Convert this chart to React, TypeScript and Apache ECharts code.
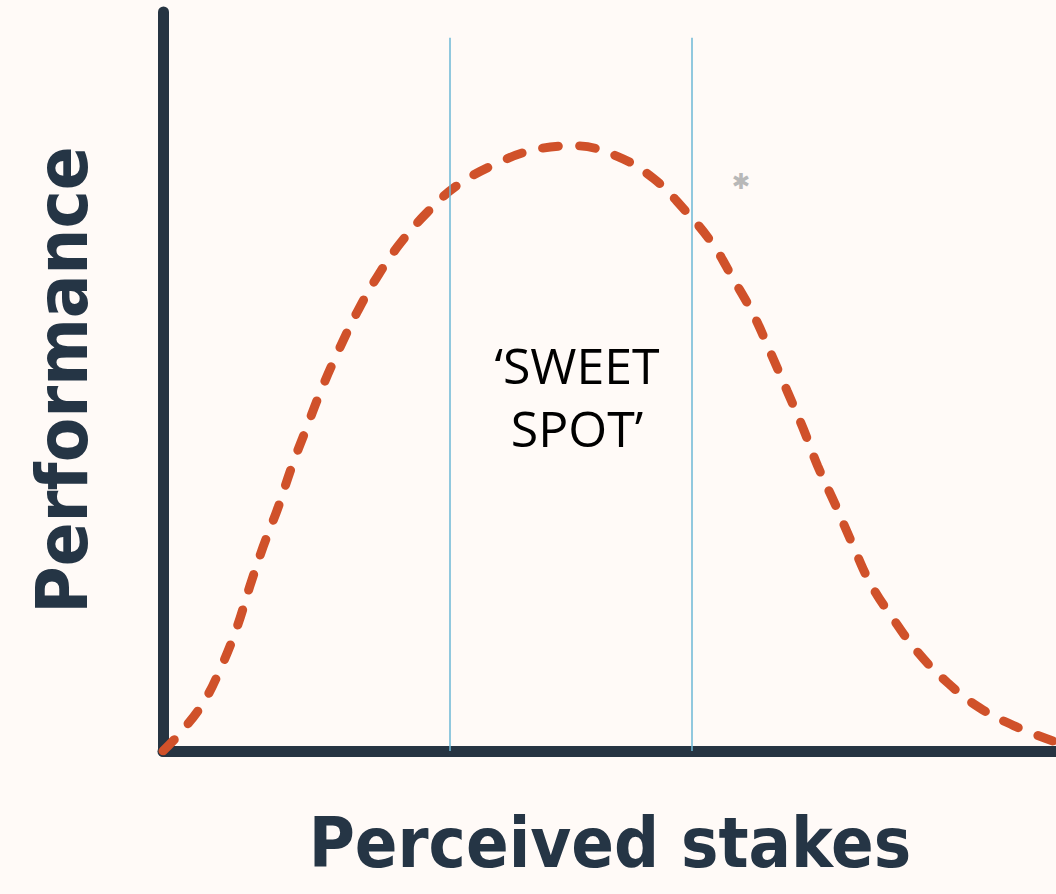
import React, { useEffect, useRef } from "react";
import * as echarts from "echarts";

// Curve: [perceived stakes, performance] on 0..100 scales
const stakes = [0, 1.9, 4.5, 6.6, 8.3, 9.7, 11.2, 12.9, 14.4, 16.1, 17.8, 19.7, 21.7, 23.9, 26.5, 29.6, 32.9, 37.0, 41.4, 46.1, 50.8, 54.9, 58.2, 61.5, 63.8, 66.1, 68.0, 69.9, 71.7, 73.3, 75.3, 77.2, 79.2, 81.7, 84.5, 87.8, 91.5, 95.7, 100];
const performance = [0, 2.4, 6.5, 11.6, 16.8, 22.2, 27.6, 33.0, 38.4, 43.8, 49.1, 54.3, 59.3, 64.0, 68.6, 72.9, 76.5, 79.3, 81.3, 81.9, 80.5, 77.5, 73.5, 68.7, 64.0, 59.1, 54.0, 48.7, 43.6, 38.6, 33.3, 28.0, 22.7, 18.0, 13.4, 9.3, 5.8, 3.2, 1.2];

// Sweet spot boundaries (x) and their top (y)
const sweetSpotBounds = [32.1, 59.2];
const boundTop = 96.5;

const xTitle = "Perceived stakes";
const yTitle = "Performance";
const sweetLabel = "\u2018SWEET\nSPOT\u2019";

export default function App() {
  const ref = useRef<HTMLDivElement>(null);
  useEffect(() => {
    document.body.style.margin = "0";
    const chart = echarts.init(ref.current!, null, { renderer: "svg" });
    const axisColor = "#263442";
    const data = stakes.map((x, i) => [x, performance[i]]);
    chart.setOption({
      animation: false,
      backgroundColor: "#fffaf7",
      grid: { left: 163, right: 0, top: 12, bottom: 143 },
      xAxis: {
        type: "value",
        min: 0,
        max: 100,
        axisLine: { show: true, lineStyle: { color: axisColor, width: 11, cap: "round" } },
        axisTick: { show: false },
        axisLabel: { show: false },
        splitLine: { show: false },
      },
      yAxis: {
        type: "value",
        min: 0,
        max: 100,
        axisLine: { show: true, lineStyle: { color: axisColor, width: 11, cap: "round" } },
        axisTick: { show: false },
        axisLabel: { show: false },
        splitLine: { show: false },
      },
      series: [
        {
          type: "line",
          data,
          smooth: 0.4,
          symbol: "none",
          z: 3,
          lineStyle: { color: "#d0512a", width: 9, type: [16, 21], cap: "round" },
          markLine: {
            silent: true,
            symbol: "none",
            label: { show: false },
            lineStyle: { color: "#6db7d6", width: 1.5, type: "solid" },
            data: sweetSpotBounds.map((b) => [
              { coord: [b, 0] },
              { coord: [b, boundTop] },
            ]),
          },
        },
      ],
      graphic: [
        {
          type: "text",
          x: 577,
          y: 396,
          style: {
            text: sweetLabel,
            font: "50px 'Open Sans'",
            fill: "#000",
            align: "center",
            verticalAlign: "middle",
            lineHeight: 63,
          },
        },
        {
          type: "text",
          x: 610,
          y: 843,
          style: {
            text: xTitle,
            font: "bold 70px 'DejaVu Sans Condensed'",
            fill: "#253545",
            align: "center",
            verticalAlign: "middle",
          },
        },
        {
          type: "text",
          x: 62,
          y: 380,
          rotation: Math.PI / 2,
          style: {
            text: yTitle,
            font: "bold 72px 'DejaVu Sans Condensed'",
            fill: "#253545",
            align: "center",
            verticalAlign: "middle",
          },
        },
        {
          type: "text",
          x: 741,
          y: 181,
          style: {
            text: "\u2731",
            font: "22px 'DejaVu Sans'",
            fill: "#b8b8b8",
            align: "center",
            verticalAlign: "middle",
          },
        },
      ],
    });
    return () => chart.dispose();
  }, []);
  return <div ref={ref} style={{ width: 1056, height: 894 }} />;
}
